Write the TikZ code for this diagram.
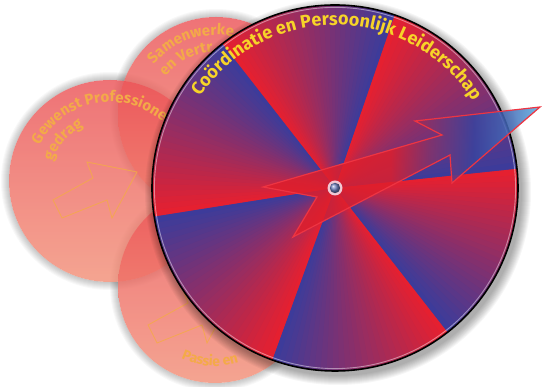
\documentclass[tikz,border=0pt]{standalone}
\usepackage{fontspec}
\setmainfont{Fira Sans}
\usetikzlibrary{decorations.text,calc}
\definecolor{wblue}{RGB}{58,60,156}
\definecolor{wred}{RGB}{232,32,46}
\definecolor{wmid}{RGB}{145,46,101}
\definecolor{cpink}{RGB}{235,80,84}
\definecolor{cpeach}{RGB}{242,142,118}
\definecolor{ctext}{RGB}{243,170,72}
\definecolor{wtext}{RGB}{247,212,40}
\definecolor{arrowline}{RGB}{238,52,66}
\definecolor{headblue}{RGB}{60,70,165}
\definecolor{tipblue}{RGB}{90,184,236}
\definecolor{hubring}{RGB}{240,200,212}
\definecolor{hubblue}{RGB}{110,128,190}
\pgfdeclarehorizontalshading{arrowshade}{100bp}{color(0bp)=(wred); color(48bp)=(wred); color(55bp)=(headblue!55!wred); color(63bp)=(headblue); color(70bp)=(headblue!60!tipblue); color(75bp)=(tipblue); color(100bp)=(tipblue)}
\tikzset{
  backcircle/.style={shading angle=45, top color=cpink, bottom color=cpeach, fill opacity=0.8},
  backtext/.style={decorate, decoration={text along path, text color=ctext,
      text={|\fontsize{15}{15}\selectfont\bfseries|#1}}},
  backletter/.style={anchor=base, inner sep=0pt, text=ctext, font=\fontsize{14}{14}\selectfont\bfseries},
  outlinearrow/.style={draw=ctext, line width=0.9pt, opacity=0.8, line join=miter},
  wheeltext/.style={decorate, decoration={text along path, text color=wtext,
      text={|\fontsize{18}{18}\selectfont\bfseries|#1}}}
}
\begin{document}
\begin{tikzpicture}[x=1pt,y=1pt]
\useasboundingbox (0,0) rectangle (542,387);
\fill[white] (0,0) rectangle (542,387);
\coordinate (cA) at (110,206);
\coordinate (cB) at (216,272);
\coordinate (cC) at (215,101);
\coordinate (W) at (335,199);
% soft shadows of back circles
\foreach \c/\r in {cB/98,cA/101,cC/97}{
  \foreach \k in {1,...,8}{
    \fill[black,opacity=0.028,even odd rule] (\c) circle (\r+\k) (\c) circle (\r);
  }}
% back circles
\shade[backcircle] (cB) circle (98);
\shade[backcircle] (cA) circle (101);
\shade[backcircle] (cC) circle (97);
% outline arrows
\draw[outlinearrow] (53,187) -- (62,169) -- (107,187) -- (112,169) -- (137,215) -- (87,225) -- (93,209) -- cycle;
\draw[outlinearrow] (148,62) -- (157,44) -- (202,62) -- (207,44) -- (232,90) -- (182,100) -- (188,84) -- cycle;
% texts of back circles (as far as they show beside the wheel)
\path[backtext={Gewenst Professionee}] ($(cA)+(153:79)$) arc[start angle=153, end angle=0, radius=79];
\path[backtext={gedrag}] ($(cA)+(161:61)$) arc[start angle=161, end angle=40, radius=61];
\path[backtext={Samenwerke}] ($(cB)+(141:80)$) arc[start angle=141, end angle=0, radius=80];
\path[backtext={en Vertr}] ($(cB)+(143:63)$) arc[start angle=143, end angle=0, radius=63];
% "Passie en" along the lower rim of circle C, letter by letter
\foreach \ch/\ang [count=\n] in {P/248,a/253.7,s/258.6,s/263.2,i/266.8,e/270.9,e/278.7,n/284.3}{
  \node[backletter, rotate=\ang+90] (pl\n) at ($(cC)+(\ang:80)$) {\ch};
}
% wheel shadow
\foreach \k in {1,...,10}{
  \fill[black,opacity=0.035,even odd rule] ($(W)+(3,-4)$) circle (183+\k) (W) circle (182);
}
% wheel sectors (angular gradient blue -> red)
\fill[wmid] (W) circle (183);
\foreach \a/\b in {6/71,71/128,128/189,189/250,250/308,308/366}{
  \foreach \i in {0,...,29}{
    \pgfmathsetmacro\t{\a+(\b-\a)*\i/30}
    \pgfmathsetmacro\u{min(\a+(\b-\a)*(\i+1)/30+0.5,\b)}
    \pgfmathsetmacro\p{100*(\i+0.5)/30}
    \fill[wred!\p!wblue] (W) -- ($(W)+(\t:183)$) arc[start angle=\t, end angle=\u, radius=183] -- cycle;
  }}
\draw[white,opacity=0.45,line width=0.9pt] (W) circle (180.6);
\draw[black,line width=1.6pt] (W) circle (183);
% wheel title
\path[wheeltext={Coördinatie en Persoonlijk Leiderschap}] ($(W)+(146:163)$) arc[start angle=146, end angle=0, radius=163];
% pointer arrow
\coordinate (p1) at (540,280);
\coordinate (p2) at (415,266);
\coordinate (p3) at (442,252);
\coordinate (p4) at (263,200);
\coordinate (p5) at (317,190);
\coordinate (p6) at (293,150);
\coordinate (p7) at (450,232);
\coordinate (p8) at (452,204);
\fill[black,opacity=0.18,shift={(3,-4)}] (p1) -- (p2) -- (p3) -- (p4) -- (p5) -- (p6) -- (p7) -- (p8) -- cycle;
\shade[shading=arrowshade, fill opacity=0.82] (p1) -- (p2) -- (p3) -- (p4) -- (p5) -- (p6) -- (p7) -- (p8) -- cycle;
\draw[arrowline, line width=1.2pt, line join=miter] (p1) -- (p2) -- (p3) -- (p4) -- (p5) -- (p6) -- (p7) -- (p8) -- cycle;
% hub
\node[circle, fill=hubring, minimum size=15pt, inner sep=0pt] (hub) at (W) {};
\shade[ball color=hubblue] (W) circle (5.2);
\end{tikzpicture}
\end{document}
